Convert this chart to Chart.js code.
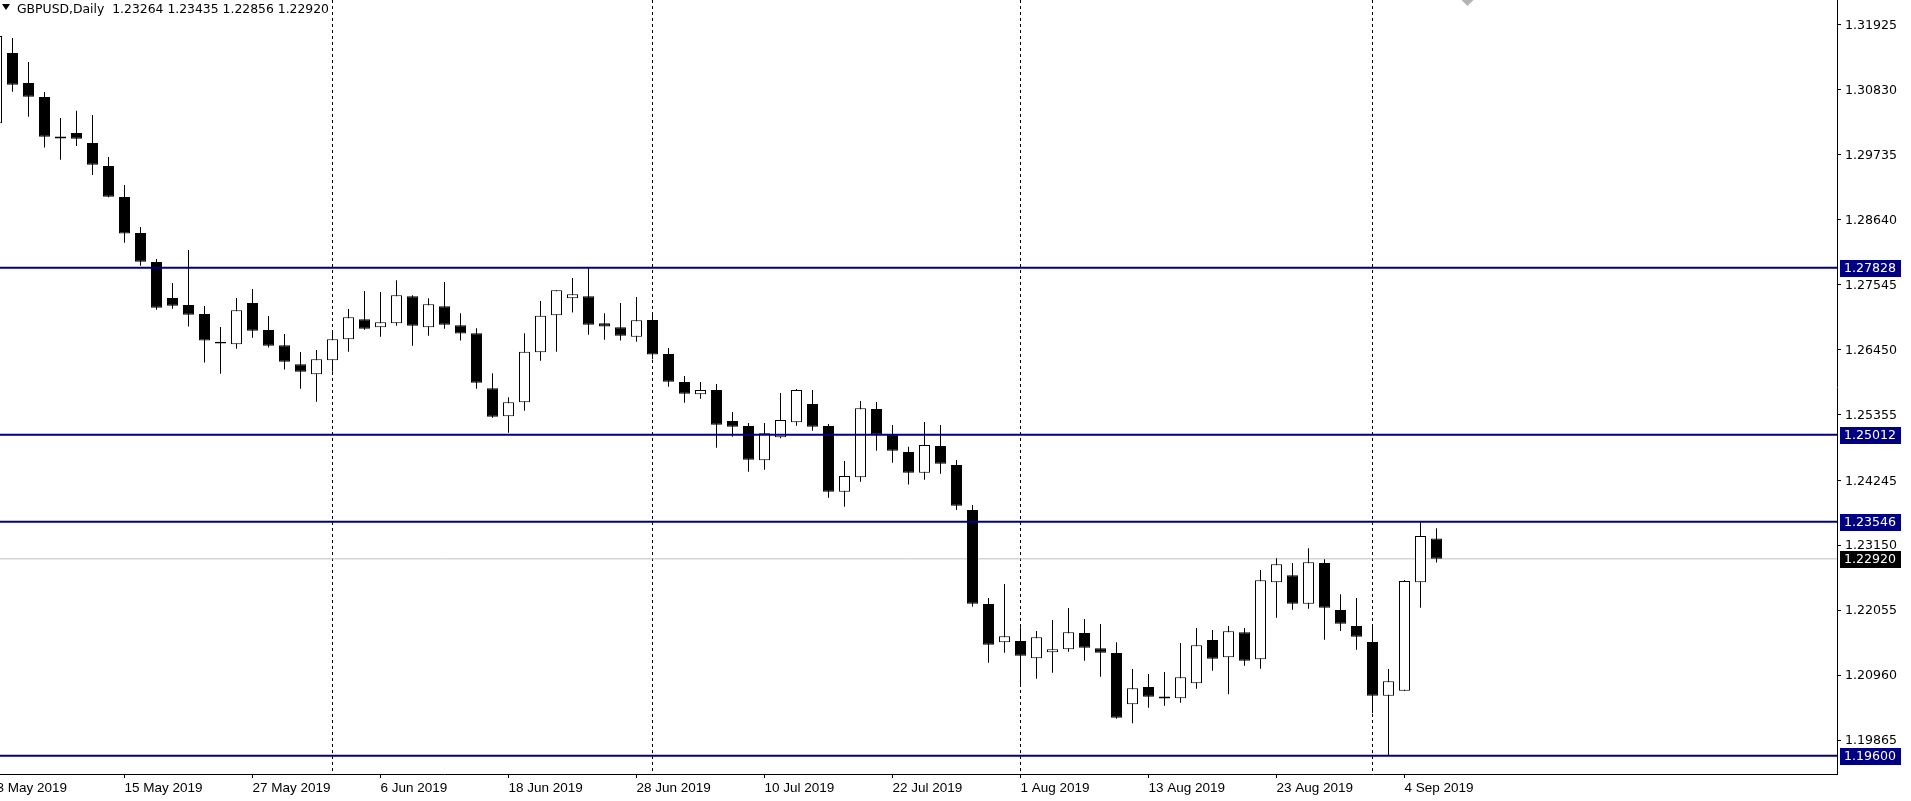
<!DOCTYPE html>
<html>
<head>
<meta charset="utf-8">
<script src="https://cdn.jsdelivr.net/npm/chart.js@4.4.1/dist/chart.umd.min.js"></script>
<style>
  html, body { margin: 0; padding: 0; background: #fff; overflow: hidden; }
  #wrap { position: relative; width: 1911px; height: 801px; overflow: hidden; }
  #chart { position: absolute; left: -20px; top: 0; }
  #title { position: absolute; left: 17px; top: 1px; font: 12.4px 'DejaVu Sans'; line-height: 16px; white-space: pre; color: #000; }
  #arrow { position: absolute; left: 2px; top: 4px; width: 0; height: 0;
           border-left: 4px solid transparent; border-right: 4px solid transparent; border-top: 6px solid #000; }
</style>
</head>
<body>
<div id="wrap">
  <canvas id="chart" width="1931" height="801"></canvas>
  <div id="arrow"></div>
  <div id="title">GBPUSD,Daily  1.23264 1.23435 1.22856 1.22920</div>
</div>
<script>
const dates = [
  '2019-05-03','2019-05-06','2019-05-07','2019-05-08','2019-05-09','2019-05-10','2019-05-13','2019-05-14',
  '2019-05-15','2019-05-16','2019-05-17','2019-05-20','2019-05-21','2019-05-22','2019-05-23','2019-05-24',
  '2019-05-27','2019-05-28','2019-05-29','2019-05-30','2019-05-31','2019-06-03','2019-06-04','2019-06-05',
  '2019-06-06','2019-06-07','2019-06-10','2019-06-11','2019-06-12','2019-06-13','2019-06-14','2019-06-17',
  '2019-06-18','2019-06-19','2019-06-20','2019-06-21','2019-06-24','2019-06-25','2019-06-26','2019-06-27',
  '2019-06-28','2019-07-01','2019-07-02','2019-07-03','2019-07-04','2019-07-05','2019-07-08','2019-07-09',
  '2019-07-10','2019-07-11','2019-07-12','2019-07-15','2019-07-16','2019-07-17','2019-07-18','2019-07-19',
  '2019-07-22','2019-07-23','2019-07-24','2019-07-25','2019-07-26','2019-07-29','2019-07-30','2019-07-31',
  '2019-08-01','2019-08-02','2019-08-05','2019-08-06','2019-08-07','2019-08-08','2019-08-09','2019-08-12',
  '2019-08-13','2019-08-14','2019-08-15','2019-08-16','2019-08-19','2019-08-20','2019-08-21','2019-08-22',
  '2019-08-23','2019-08-26','2019-08-27','2019-08-28','2019-08-29','2019-08-30','2019-09-02','2019-09-03',
  '2019-09-04','2019-09-05','2019-09-06'
];
const open = [
  1.30263,1.31449,1.30943,1.30707,1.30030,1.30100,1.29931,1.29543,1.29021,1.28414,1.27925,1.27318,1.27200,1.27048,1.26570,1.26537,
  1.27234,1.26778,1.26520,1.26200,1.26031,1.26267,1.26621,1.26958,1.26823,1.26891,1.27346,1.26823,1.27177,1.26857,1.26722,1.25795,
  1.25323,1.25559,1.26402,1.27026,1.27312,1.27346,1.26891,1.26823,1.26666,1.26947,1.26374,1.25901,1.25694,1.25767,1.25244,1.25160,
  1.24581,1.24969,1.25221,1.25531,1.25160,1.24052,1.24294,1.25446,1.25014,1.24721,1.24373,1.24822,1.24502,1.23743,1.22159,1.21512,
  1.21535,1.21242,1.21344,1.21394,1.21670,1.21411,1.21332,1.20467,1.20759,1.20596,1.20568,1.20821,1.21552,1.21259,1.21681,1.21226,
  1.22524,1.22642,1.22164,1.22850,1.22057,1.21788,1.21518,1.20613,1.20697,1.22524,1.23264
];
const high = [
  1.31800,1.31702,1.31297,1.30791,1.30353,1.30476,1.30403,1.29695,1.29223,1.28515,1.27975,1.27571,1.28127,1.27183,1.26829,1.27318,
  1.27470,1.27014,1.26711,1.26407,1.26441,1.26745,1.27132,1.27436,1.27419,1.27616,1.27363,1.27312,1.27588,1.27059,1.26806,1.26048,
  1.25643,1.26722,1.27267,1.27450,1.27655,1.27828,1.27059,1.27234,1.27335,1.27048,1.26475,1.26003,1.25901,1.25868,1.25396,1.25210,
  1.25210,1.25716,1.25783,1.25767,1.25193,1.24570,1.25581,1.25564,1.25176,1.24811,1.25227,1.25176,1.24586,1.23828,1.22260,1.22496,
  1.21765,1.21703,1.21889,1.22091,1.21906,1.21821,1.21512,1.21063,1.20978,1.21012,1.21501,1.21754,1.21720,1.21788,1.21754,1.22732,
  1.22928,1.22850,1.23097,1.22912,1.22322,1.22260,1.21771,1.21063,1.22563,1.23546,1.23435
];
const low = [
  1.30180,1.30797,1.30375,1.29853,1.29650,1.29881,1.29392,1.29015,1.28251,1.27863,1.27121,1.27138,1.26835,1.26228,1.26042,1.26464,
  1.26649,1.26481,1.26110,1.25789,1.25570,1.26076,1.26413,1.26784,1.26666,1.26851,1.26514,1.26683,1.26801,1.26599,1.25789,1.25300,
  1.25047,1.25418,1.26261,1.26413,1.27071,1.26700,1.26615,1.26599,1.26582,1.26284,1.25823,1.25553,1.25620,1.24794,1.24980,1.24390,
  1.24423,1.24952,1.25165,1.25081,1.23951,1.23800,1.24221,1.24744,1.24541,1.24171,1.24255,1.24356,1.23743,1.22114,1.21169,1.21338,
  1.20782,1.20900,1.21001,1.21355,1.21203,1.20933,1.20225,1.20147,1.20411,1.20444,1.20495,1.20731,1.21034,1.20635,1.21119,1.21068,
  1.21928,1.22063,1.22080,1.21557,1.21703,1.21389,1.20315,1.19600,1.20690,1.22097,1.22856
];
const close = [
  1.31735,1.30915,1.30712,1.30038,1.30015,1.30004,1.29566,1.29026,1.28403,1.27930,1.27155,1.27189,1.27037,1.26599,1.26560,1.27110,
  1.26767,1.26514,1.26244,1.26076,1.26284,1.26621,1.26992,1.26801,1.26908,1.27363,1.26851,1.27211,1.26868,1.26717,1.25890,1.25317,
  1.25559,1.26413,1.27020,1.27447,1.27380,1.26868,1.26835,1.26683,1.26941,1.26363,1.25907,1.25705,1.25767,1.25182,1.25148,1.24592,
  1.25036,1.25261,1.25767,1.25148,1.24052,1.24317,1.25457,1.25014,1.24744,1.24373,1.24839,1.24525,1.23816,1.22164,1.21473,1.21613,
  1.21287,1.21597,1.21394,1.21681,1.21422,1.21338,1.20242,1.20737,1.20596,1.20568,1.20922,1.21462,1.21237,1.21698,1.21203,1.22558,
  1.22827,1.22164,1.22861,1.22097,1.21827,1.21608,1.20613,1.20855,1.22546,1.23305,1.22920
];
const priceTicks = [1.31925, 1.30830, 1.29735, 1.28640, 1.27545, 1.26450, 1.25355, 1.24245, 1.23150, 1.22055, 1.20960, 1.19865];
const levels = [1.27828, 1.25012, 1.23546, 1.19600];
const bid = 1.22920;
const months = ['Jan','Feb','Mar','Apr','May','Jun','Jul','Aug','Sep','Oct','Nov','Dec'];

const labelStep = 8;
const xMin = -1.03125, xMax = 115.03125;
const yMin = 1.19292, yMax = 1.32342;

function dateLabel(i) {
  const p = dates[i].split('-');
  return Number(p[2]) + ' ' + months[Number(p[1]) - 1] + ' ' + p[0];
}

const wicks = dates.map((d, i) => ({x: i, y: [low[i], high[i]]}));
const bodies = dates.map((d, i) => {
  let lo = Math.min(open[i], close[i]), hi = Math.max(open[i], close[i]);
  if (hi - lo < 0.0003) { const m = (hi + lo) / 2; lo = m - 0.00016; hi = m + 0.00016; }
  return {x: i, y: [lo, hi]};
});
const tickIdx = dates.map((d, i) => i).filter(i => i % labelStep === 0);

const hline = (v, color, width, order) => ({
  type: 'line', data: [{x: xMin, y: v}, {x: xMax, y: v}],
  borderColor: color, borderWidth: width, pointRadius: 0, order: order
});

// scales must not push the plot area inwards
const noPad = s => { s.paddingTop = 0; s.paddingBottom = 0; s.paddingLeft = 0; s.paddingRight = 0; };

const extras = {
  id: 'extras',
  beforeDatasetsDraw(chart) {
    const {ctx, chartArea: a, scales: {x}} = chart;
    ctx.save();
    ctx.strokeStyle = '#000';
    ctx.lineWidth = 1;
    ctx.setLineDash([3, 3]);
    dates.forEach((d, i) => {
      if (i > 0 && d.slice(5, 7) !== dates[i - 1].slice(5, 7)) {
        const px = Math.round(x.getPixelForValue(i) - 0.5) + 0.5;
        ctx.beginPath(); ctx.moveTo(px, a.top); ctx.lineTo(px, a.bottom); ctx.stroke();
      }
    });
    ctx.restore();
  },
  afterDraw(chart) {
    const {ctx, chartArea: a, scales: {y}} = chart;
    ctx.save();
    ctx.font = "12.6px 'DejaVu Sans'";
    ctx.textBaseline = 'middle';
    const tag = (v, bg) => {
      const py = Math.round(y.getPixelForValue(v));
      ctx.fillStyle = bg;
      ctx.fillRect(a.right + 3, py - 8, 61, 17);
      ctx.fillStyle = '#fff';
      ctx.fillText(v.toFixed(5), a.right + 7, py + 1);
    };
    levels.forEach(v => tag(v, '#000080'));
    tag(bid, '#000');
    // chart shift marker
    const cx = a.right - 369.5;
    ctx.fillStyle = '#b4b4b4';
    ctx.beginPath(); ctx.moveTo(cx - 6, 0); ctx.lineTo(cx + 6, 0); ctx.lineTo(cx, 6); ctx.closePath(); ctx.fill();
    ctx.restore();
  }
};

new Chart(document.getElementById('chart'), {
  type: 'bar',
  data: {
    datasets: [
      { data: wicks, backgroundColor: '#000', borderWidth: 0, barThickness: 1, grouped: false, inflateAmount: 0, order: 3 },
      { data: bodies, backgroundColor: c => close[c.dataIndex] > open[c.dataIndex] ? '#fff' : '#000',
        borderColor: '#000', borderWidth: 1, borderSkipped: false, barThickness: 11, grouped: false, inflateAmount: 0, order: 2 },
      ...levels.map(v => hline(v, '#000080', 2, 1)),
      hline(bid, '#c0c0c0', 1, 5)
    ]
  },
  options: {
    responsive: false,
    devicePixelRatio: 1,
    animation: false,
    layout: { padding: 0, autoPadding: false },
    plugins: { legend: { display: false }, tooltip: { enabled: false } },
    scales: {
      x: {
        type: 'linear', min: xMin, max: xMax, offset: false,
        afterBuildTicks: s => { s.ticks = tickIdx.map(v => ({value: v})); },
        afterFit: s => { s.height = 27; noPad(s); },
        grid: { drawOnChartArea: false, offset: false, tickLength: 4, tickColor: '#000' },
        border: { color: '#000' },
        ticks: { align: 'start', maxRotation: 0, autoSkip: false, padding: 2, color: '#000',
                 font: { family: 'Liberation Sans', size: 13.5 }, callback: v => dateLabel(v) }
      },
      y: {
        type: 'linear', position: 'right', min: yMin, max: yMax,
        afterBuildTicks: s => { s.ticks = priceTicks.map(v => ({value: v})); },
        afterFit: s => { s.width = 74; noPad(s); },
        grid: { drawOnChartArea: false, tickLength: 4, tickColor: '#000' },
        border: { color: '#000', dash: [1, 1] },
        ticks: { autoSkip: false, padding: 4, labelOffset: 1, color: '#000',
                 font: { family: 'DejaVu Sans', size: 12.6 }, callback: v => v.toFixed(5) }
      }
    }
  },
  plugins: [extras]
});
</script>
</body>
</html>
